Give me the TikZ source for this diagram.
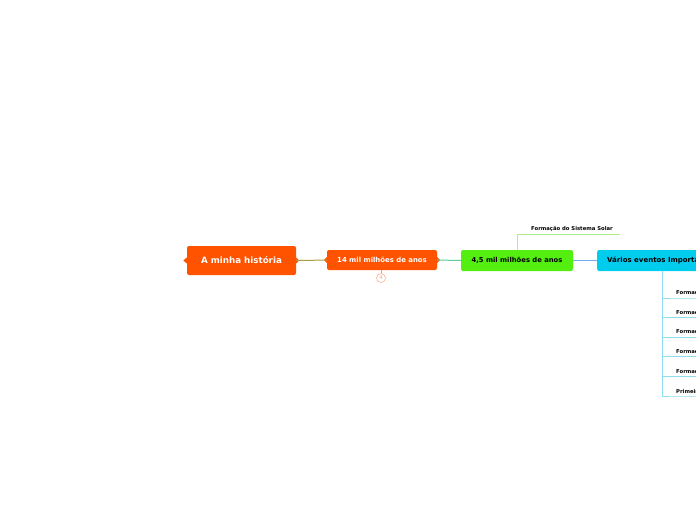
\documentclass[tikz,border=0pt]{standalone}
\usepackage{fontspec}
\setmainfont{DejaVu Sans}
\usepackage{xcolor}
\definecolor{rootorange}{RGB}{255, 83, 0}
\definecolor{lime}{RGB}{85, 238, 17}
\definecolor{skycyan}{RGB}{0, 204, 238}
\definecolor{olive}{RGB}{168, 160, 64}
\definecolor{seagreen}{RGB}{90, 204, 150}
\definecolor{paleblue}{RGB}{110, 170, 238}
\definecolor{palegreen}{RGB}{175, 238, 140}
\definecolor{palecyan}{RGB}{140, 220, 238}
\usetikzlibrary{positioning}

\begin{document}
\begin{tikzpicture}[
        x=1pt, y=-1pt,
        topic/.style={rectangle, rounded corners=2pt, inner sep=0pt, text centered, font=\bfseries},
        leaf/.style={inner xsep=0pt, inner ysep=2pt, anchor=south west, font=\fontsize{5.3}{6}\selectfont\bfseries},
        link/.style={line width=1pt}
    ]
    \useasboundingbox (0,0) rectangle (696,520);
    \clip (0,0) rectangle (696,520);

    % main chain
    \node[topic, fill=rootorange, text=white, minimum width=109pt, minimum height=29pt, font=\fontsize{8.7}{9}\selectfont\bfseries] (root) at (241.5,260.5) {A minha história};
    \node[topic, fill=rootorange, text=white, minimum width=110pt, minimum height=20pt, font=\fontsize{6.9}{7}\selectfont\bfseries] (mil14) at (382,260) {14 mil milhões de anos};
    \node[topic, fill=lime, minimum width=112pt, minimum height=21pt, font=\fontsize{6.8}{7}\selectfont\bfseries] (mil45) at (517,260.5) {4,5 mil milhões de anos};
    \node[topic, fill=skycyan, anchor=west, minimum height=21pt, inner xsep=10pt, font=\fontsize{7}{7}\selectfont\bfseries] (eventos) at (597,260.5) {Vários eventos Importantes};

    % tabs
    \fill[rootorange] (root.west) ++(0,-3) -- ++(-3.5,3) -- ++(3.5,3) -- cycle;
    \fill[rootorange] (root.east) ++(0,-3) -- ++(3,3) -- ++(-3,3) -- cycle;
    \fill[rootorange] (mil14.west) ++(0,-3) -- ++(-3,3) -- ++(3,3) -- cycle;
    \fill[rootorange] (mil14.east) ++(0,-3) -- ++(3,3) -- ++(-3,3) -- cycle;

    \draw[link, olive] (root) -- (mil14);
    \draw[link, seagreen] (mil14) -- (mil45);
    \draw[link, paleblue] (mil45) -- (eventos);

    % collapsed count
    \node[circle, draw=rootorange!60, fill=white, inner sep=0pt, minimum size=9pt, text=rootorange!60, font=\fontsize{5}{5}\selectfont] (count) at (381,278) {4};
    \draw[rootorange!60, line width=0.6pt] (mil14.south -| count) -- (count);

    % solar system branch
    \node[leaf, anchor=base west] (solar) at (531,230) {Formação do Sistema Solar};
    \coordinate (solarend) at (620,234);
    \draw[palegreen, line width=1pt] (mil45.north) |- (solarend);

    % events
    \coordinate (trunk) at (662,271);
    \foreach \name/\txt [count=\i from 0] in {terra/Formação da Terra, lua/Formação da Lua, oceano/Formação dos oceanos, atmos/Formação da atmosfera, contin/Formação dos continentes, vida/Primeiros seres vivos} {
        \node[leaf] (\name) at (676, 298+19.6*\i) {\txt};
        \draw[palecyan, line width=0.8pt] (trunk) |- (\name.south west) -- (\name.south east);
    }
\end{tikzpicture}
\end{document}
